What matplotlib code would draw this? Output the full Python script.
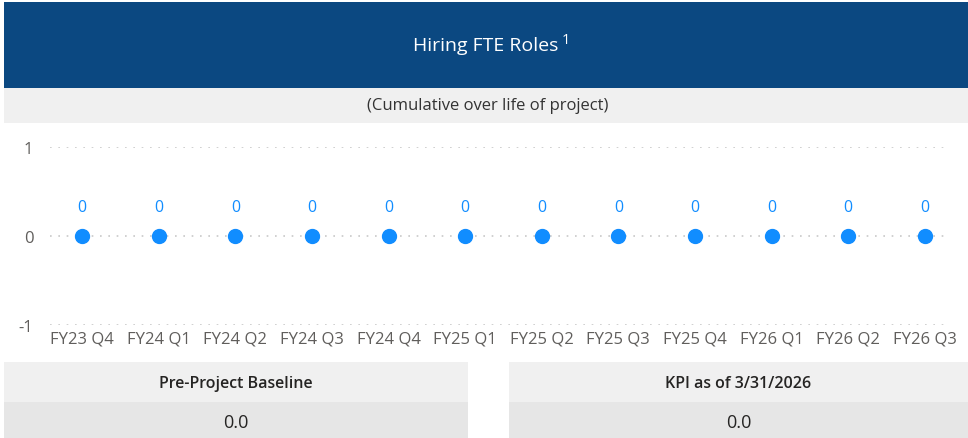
import matplotlib.pyplot as plt
from matplotlib.patches import Rectangle

quarters = ['FY23 Q4', 'FY24 Q1', 'FY24 Q2', 'FY24 Q3', 'FY24 Q4', 'FY25 Q1',
            'FY25 Q2', 'FY25 Q3', 'FY25 Q4', 'FY26 Q1', 'FY26 Q2', 'FY26 Q3']
hires = [0, 0, 0, 0, 0, 0, 0, 0, 0, 0, 0, 0]
yticks = [-1, 0, 1]

title = 'Hiring FTE Roles'
subtitle = '(Cumulative over life of project)'
cards = [('Pre-Project Baseline', '0.0'), ('KPI as of 3/31/2026', '0.0')]

plt.rcParams['font.family'] = ['Open Sans', 'DejaVu Sans']
plt.rcParams['axes.unicode_minus'] = False

W, H = 968, 439
fig = plt.figure(figsize=(W / 100, H / 100), dpi=100)
fig.patch.set_facecolor('white')


def box(x0, y0, x1, y1, color):
    # pixel coords, y from top
    fig.patches.append(Rectangle((x0 / W, 1 - y1 / H), (x1 - x0) / W, (y1 - y0) / H,
                                 transform=fig.transFigure, facecolor=color,
                                 edgecolor='none', zorder=-1))


# header bands
box(4, 3, 968, 89, '#0B4881')
box(4, 89, 968, 124, '#F0F0F0')
t = fig.text(486 / W, 1 - 46 / H, title, color='white', fontsize=14,
             ha='center', va='center')
fig.text(488 / W, 1 - 106 / H, subtitle, color='#333333', fontsize=12, ha='center', va='center')

# chart
ax = fig.add_axes([50 / W, 1 - 326 / H, 900 / W, 178 / H])
ax.annotate('1', xy=(1, 1), xycoords=t, xytext=(2, 3), textcoords='offset points',
            color='white', fontsize=10.5, ha='left', va='top', annotation_clip=False)
x = list(range(len(quarters)))
ax.plot(x, hires, 'o', color='#118DFF', markersize=10, zorder=3, clip_on=False)
for xi, v in zip(x, hires):
    ax.annotate(str(v), (xi, v), xytext=(0, 15), textcoords='offset points',
                ha='center', va='bottom', color='#118DFF', fontsize=11.5)
ax.set_xlim(-0.42, 11.33)
ax.set_ylim(-1, 1)
ax.set_yticks(yticks)
ax.set_xticks(x)
ax.set_xticklabels(quarters)
ax.grid(axis='y', color='#C8C8C8', linestyle=(0, (1, 4)), linewidth=1.2)
ax.set_axisbelow(True)
for s in ax.spines.values():
    s.set_visible(False)
ax.tick_params(length=0, colors='#605E5C', labelsize=12)
ax.tick_params(axis='y', pad=12)
ax.tick_params(axis='x', pad=4)
ax.set_facecolor('none')

# KPI cards
for (label, val), (x0, x1) in zip(cards, [(4, 468), (509, 968)]):
    box(x0, 363, x1, 403, '#F0F0F0')
    box(x0, 403, x1, 439, '#E6E6E6')
    cx = (x0 + x1) / 2 / W
    fig.text(cx, 1 - 384 / H, label, color='#252423', fontsize=11.5, fontweight='semibold',
             ha='center', va='center')
    fig.text(cx, 1 - 423 / H, val, color='#252423', fontsize=13, ha='center', va='center')

fig.savefig('out.png', dpi=100)
